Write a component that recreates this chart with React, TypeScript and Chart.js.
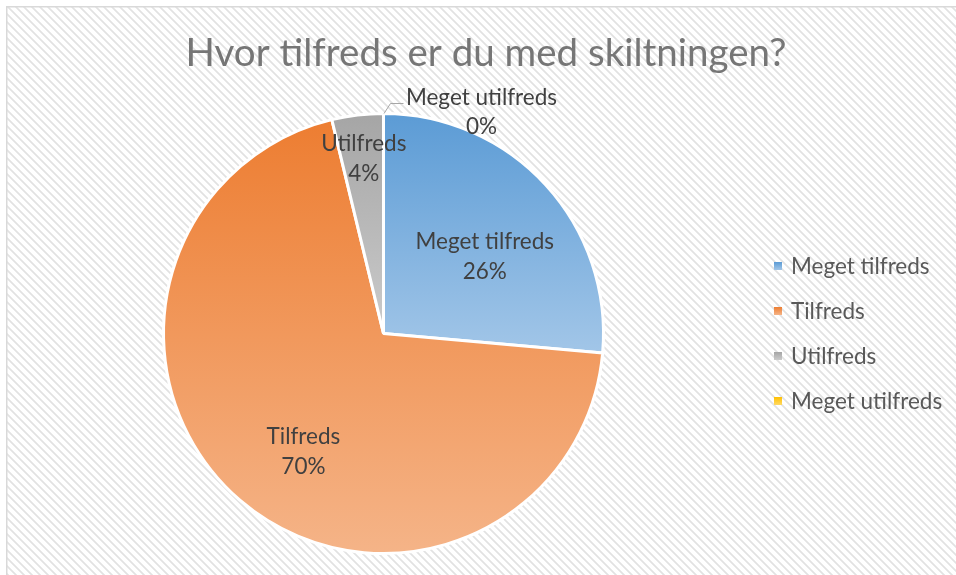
import React, { useEffect, useRef } from "react";
import { Chart, registerables } from "chart.js";

Chart.register(...registerables);

// ---- data ----
const TITLE = "Hvor tilfreds er du med skiltningen?";
const categories = ["Meget tilfreds", "Tilfreds", "Utilfreds", "Meget utilfreds"];
const responseCounts = [14, 37, 2, 0];

// ---- style ----
const darkColors = ["#5b9bd5", "#ed7d31", "#a5a5a5", "#ffc000"];
const lightColors = ["#a2c6e8", "#f5b488", "#cbcbcb", "#ffd966"];
const labelRadius = [0.58, 0.645, 0.805, 1];
const labelAngleShiftDeg = [5.0, -6.4, 0.4, 0];
const FONT = "Lato, 'Open Sans', sans-serif";
const W = 956;
const H = 575;

function makeHatch(ctx: CanvasRenderingContext2D) {
  const c = document.createElement("canvas");
  c.width = 8;
  c.height = 8;
  const p = c.getContext("2d")!;
  p.fillStyle = "#ffffff";
  p.fillRect(0, 0, 8, 8);
  const img = p.getImageData(0, 0, 8, 8);
  for (let y = 0; y < 8; y++) {
    for (let x = 0; x < 8; x++) {
      const d = (((x - y) % 8) + 8) % 8;
      if (d < 3) {
        const i = (y * 8 + x) * 4;
        const v = d === 1 ? 0xe2 : 0xea;
        img.data[i] = v;
        img.data[i + 1] = v;
        img.data[i + 2] = v;
      }
    }
  }
  p.putImageData(img, 0, 0);
  return ctx.createPattern(c, "repeat")!;
}

function sliceGradient(context: any) {
  const i = context.dataIndex;
  const chart = context.chart;
  const area = chart.chartArea;
  if (!area || i === undefined) return darkColors[i ?? 0];
  const data: number[] = chart.data.datasets[0].data as number[];
  const total = data.reduce((a, b) => a + b, 0);
  let cum = 0;
  for (let k = 0; k < i; k++) cum += data[k];
  const a0 = (cum / total) * Math.PI * 2;
  const a1 = ((cum + data[i]) / total) * Math.PI * 2;
  const cx = (area.left + area.right) / 2;
  const cy = (area.top + area.bottom) / 2;
  const R = Math.min(area.right - area.left, area.bottom - area.top) / 2;
  const ys = [cy, cy - R * Math.cos(a0), cy - R * Math.cos(a1)];
  if (a0 <= 0.0001) ys.push(cy - R);
  if (a0 <= Math.PI && a1 >= Math.PI) ys.push(cy + R);
  let y0 = Math.min(...ys);
  let y1 = Math.max(...ys);
  if (y1 - y0 < 1) y1 = y0 + 1;
  const g = chart.ctx.createLinearGradient(0, y0, 0, y1);
  g.addColorStop(0, darkColors[i]);
  g.addColorStop(1, lightColors[i]);
  return g;
}

const backgroundPlugin = {
  id: "bgHatch",
  beforeDraw(chart: any) {
    const ctx: CanvasRenderingContext2D = chart.ctx;
    ctx.save();
    ctx.fillStyle = "#ffffff";
    ctx.fillRect(0, 0, chart.width, chart.height);
    ctx.fillStyle = makeHatch(ctx);
    ctx.fillRect(7, 7, chart.width - 7, chart.height - 7);
    ctx.fillStyle = "#d9d9d9";
    ctx.fillRect(6, 6, chart.width - 6, 1.5);
    ctx.fillRect(6, 6, 1.5, chart.height - 6);
    // title
    ctx.fillStyle = "#767676";
    ctx.font = `400 38.5px ${FONT}`;
    ctx.textAlign = "center";
    ctx.textBaseline = "alphabetic";
    ctx.fillText(TITLE, 486, 66);
    ctx.restore();
  },
};

const labelsPlugin = {
  id: "pieLabels",
  afterDatasetsDraw(chart: any) {
    const ctx: CanvasRenderingContext2D = chart.ctx;
    const meta = chart.getDatasetMeta(0);
    const data: number[] = chart.data.datasets[0].data;
    const total = data.reduce((a, b) => a + b, 0);
    const size = 22.5;
    ctx.save();
    ctx.font = `400 ${size}px ${FONT}`;
    ctx.textAlign = "center";
    ctx.textBaseline = "alphabetic";
    const capHalf = size * 0.36;
    meta.data.forEach((arc: any, i: number) => {
      const pct = Math.round((data[i] / total) * 100) + "%";
      const name = chart.data.labels[i];
      const mid = (arc.startAngle + arc.endAngle) / 2;
      if (data[i] > 0) {
        const a = mid + (labelAngleShiftDeg[i] * Math.PI) / 180;
        const r = arc.outerRadius * labelRadius[i];
        const x = arc.x + Math.cos(a) * r;
        const y = arc.y + Math.sin(a) * r;
        ctx.fillStyle = "#404040";
        ctx.fillText(name, x, y - 15 + capHalf);
        ctx.fillText(pct, x, y + 15 + capHalf);
      } else {
        const ex = arc.x + Math.cos(mid) * arc.outerRadius;
        const ey = arc.y + Math.sin(mid) * arc.outerRadius;
        ctx.strokeStyle = "#a6a6a6";
        ctx.lineWidth = 1;
        ctx.beginPath();
        ctx.moveTo(ex + 0.5, ey);
        ctx.lineTo(ex + 7, ey - 10);
        ctx.lineTo(ex + 20, ey - 10);
        ctx.stroke();
        const x = ex + 98;
        ctx.fillStyle = "#404040";
        ctx.fillText(name, x, ey - 17 + capHalf);
        ctx.fillText(pct, x, ey + 12 + capHalf);
      }
    });
    ctx.restore();
  },
  afterDraw(chart: any) {
    const ctx: CanvasRenderingContext2D = chart.ctx;
    const meta = chart.getDatasetMeta(0);
    const cy = meta.data[0].y;
    const n = chart.data.labels.length;
    const step = 45;
    const size = 22.5;
    ctx.save();
    ctx.font = `400 ${size}px ${FONT}`;
    ctx.textAlign = "left";
    ctx.textBaseline = "alphabetic";
    for (let i = 0; i < n; i++) {
      const yc = cy - ((n - 1) / 2) * step + i * step;
      const g = ctx.createLinearGradient(0, yc - 4, 0, yc + 4);
      g.addColorStop(0, darkColors[i]);
      g.addColorStop(1, lightColors[i]);
      ctx.fillStyle = g;
      ctx.fillRect(774, yc - 4, 8, 8);
      ctx.fillStyle = "#595959";
      ctx.fillText(chart.data.labels[i], 791, yc + size * 0.36);
    }
    ctx.restore();
  },
};

export default function App() {
  const ref = useRef<HTMLCanvasElement | null>(null);
  useEffect(() => {
    document.body.style.margin = "0";
    const canvas = ref.current!;
    const chart = new Chart(canvas, {
      type: "pie",
      data: {
        labels: categories,
        datasets: [
          {
            data: responseCounts,
            backgroundColor: sliceGradient as any,
            borderColor: "#ffffff",
            borderWidth: 3,
          },
        ],
      },
      options: {
        responsive: false,
        animation: false,
        devicePixelRatio: 1,
        layout: { padding: { left: 162, right: 351, top: 112, bottom: 20 } },
        plugins: {
          legend: { display: false },
          title: { display: false },
          tooltip: { enabled: false },
        },
      },
      plugins: [backgroundPlugin, labelsPlugin],
    });
    return () => chart.destroy();
  }, []);
  return (
    <canvas ref={ref} width={W} height={H} style={{ display: "block", width: W, height: H }} />
  );
}
